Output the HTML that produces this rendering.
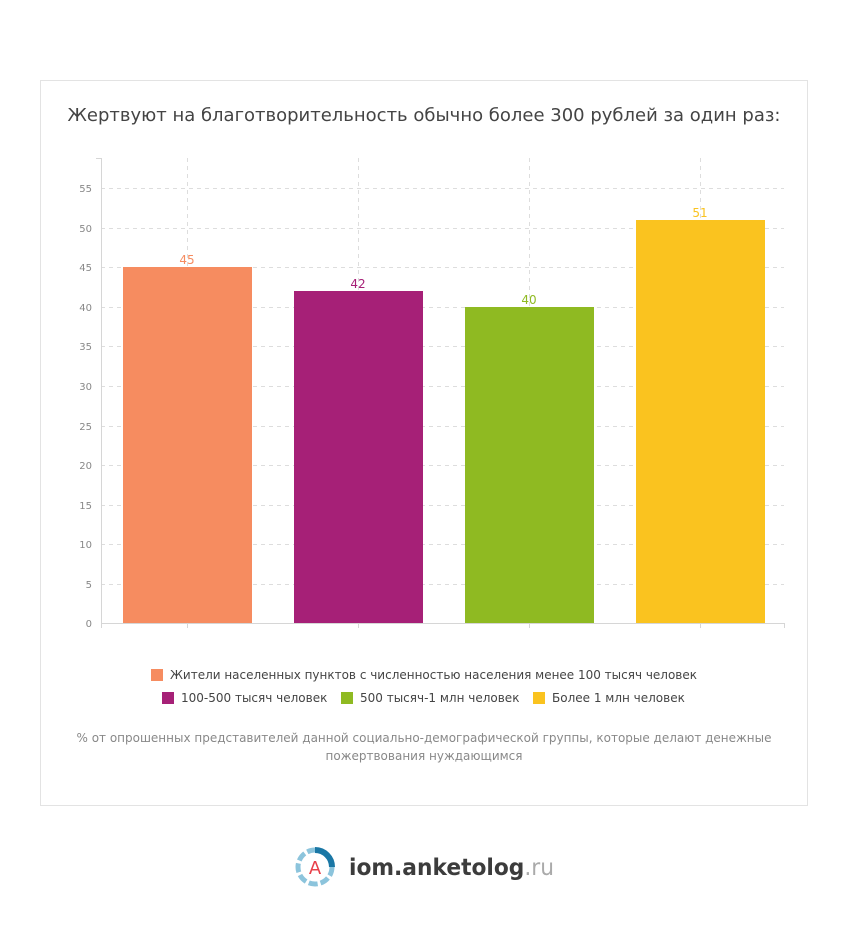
<!DOCTYPE html><html><head><meta charset="utf-8"><style>
body{margin:0;background:#fff;width:848px;height:928px;position:relative;font-family:"DejaVu Sans",sans-serif;overflow:hidden}
.card{position:absolute;left:40px;top:80px;width:766px;height:724px;border:1px solid #e3e3e3}
</style></head><body>
<div class="card"></div>
<svg width="848" height="928" style="position:absolute;left:0;top:0" font-family="DejaVu Sans, sans-serif">
<text x="424" y="121" text-anchor="middle" font-size="18" fill="#444" textLength="713" lengthAdjust="spacingAndGlyphs">Жертвуют на благотворительность обычно более 300 рублей за один раз:</text>
<g stroke="#ddd" stroke-dasharray="4,4" stroke-width="1">
<line x1="101" x2="784" y1="188.5" y2="188.5"/><line x1="101" x2="784" y1="228.5" y2="228.5"/><line x1="101" x2="784" y1="267.5" y2="267.5"/><line x1="101" x2="784" y1="307.5" y2="307.5"/><line x1="101" x2="784" y1="346.5" y2="346.5"/><line x1="101" x2="784" y1="386.5" y2="386.5"/><line x1="101" x2="784" y1="426.5" y2="426.5"/><line x1="101" x2="784" y1="465.5" y2="465.5"/><line x1="101" x2="784" y1="505.5" y2="505.5"/><line x1="101" x2="784" y1="544.5" y2="544.5"/><line x1="101" x2="784" y1="584.5" y2="584.5"/>
<line x1="187.5" x2="187.5" y1="158" y2="623"/><line x1="358.5" x2="358.5" y1="158" y2="623"/><line x1="529.5" x2="529.5" y1="158" y2="623"/><line x1="700.5" x2="700.5" y1="158" y2="623"/>
</g>
<g stroke="#d6d6d6"><line x1="101.5" x2="101.5" y1="158" y2="628"/><line x1="96" x2="101" y1="158.5" y2="158.5"/>
<line x1="101" x2="785" y1="623.5" y2="623.5"/>
<line x1="784.5" x2="784.5" y1="623" y2="628"/><line x1="187.5" x2="187.5" y1="623" y2="628"/><line x1="358.5" x2="358.5" y1="623" y2="628"/><line x1="529.5" x2="529.5" y1="623" y2="628"/><line x1="700.5" x2="700.5" y1="623" y2="628"/></g>
<g font-size="10" fill="#888" text-anchor="end">
<text x="92" y="192">55</text><text x="92" y="232">50</text><text x="92" y="271">45</text><text x="92" y="311">40</text><text x="92" y="350">35</text><text x="92" y="390">30</text><text x="92" y="430">25</text><text x="92" y="469">20</text><text x="92" y="509">15</text><text x="92" y="548">10</text><text x="92" y="588">5</text><text x="92" y="627">0</text></g>
<rect x="123" y="267" width="129" height="356" fill="#f68c60"/>
<rect x="294" y="291" width="129" height="332" fill="#a62077"/>
<rect x="465" y="307" width="129" height="316" fill="#8fba22"/>
<rect x="636" y="220" width="129" height="403" fill="#fac31f"/>
<g font-size="12" text-anchor="middle"><text x="187" y="264" fill="#f68c60">45</text><text x="358" y="288" fill="#a62077">42</text><text x="529" y="304" fill="#8fba22">40</text><text x="700" y="217" fill="#fac31f">51</text></g>
<g font-size="12" fill="#444">
<rect x="151" y="669" width="12" height="12" fill="#f68c60"/><text x="170" y="679" textLength="527" lengthAdjust="spacingAndGlyphs">Жители населенных пунктов с численностью населения менее 100 тысяч человек</text>
<rect x="162" y="692" width="12" height="12" fill="#a62077"/><text x="181" y="702">100-500 тысяч человек</text>
<rect x="341" y="692" width="12" height="12" fill="#8fba22"/><text x="360" y="702">500 тысяч-1 млн человек</text>
<rect x="533" y="692" width="12" height="12" fill="#fac31f"/><text x="552" y="702">Более 1 млн человек</text></g>
<g font-size="12" fill="#888" text-anchor="middle"><text x="424" y="742" textLength="695" lengthAdjust="spacingAndGlyphs">% от опрошенных представителей данной социально-демографической группы, которые делают денежные</text><text x="424" y="760">пожертвования нуждающимся</text></g>
<circle cx="315" cy="867" r="17" fill="none" stroke="#8cc4dc" stroke-width="5" stroke-dasharray="9,3"/>
<path d="M315 850 A17 17 0 0 1 332 867" fill="none" stroke="#1a77a5" stroke-width="6"/>
<circle cx="315" cy="867" r="13" fill="#fff"/>
<text x="315" y="874" text-anchor="middle" font-size="18" fill="#e8404a">A</text>
<text x="349" y="875" font-size="23.5" fill="#3c3c3c" font-weight="bold" textLength="205" lengthAdjust="spacingAndGlyphs">iom.anketolog<tspan fill="#aaa" font-weight="normal">.ru</tspan></text>
</svg>
</body></html>
